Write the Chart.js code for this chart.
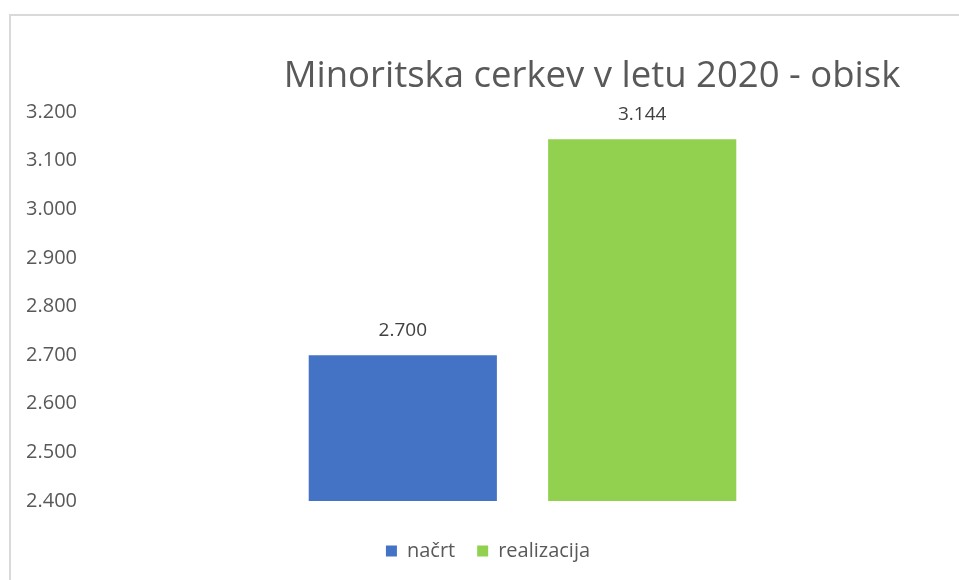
<!DOCTYPE html>
<html><head><meta charset="utf-8">
<script src="https://cdn.jsdelivr.net/npm/chart.js@4"></script>
<style>
html,body{margin:0;padding:0;background:#fff;width:959px;height:580px;overflow:hidden}
#frame{position:absolute;left:9px;top:14px;width:1000px;height:700px;border-left:2px solid #d9d9d9;border-top:2px solid #d9d9d9}
#wrap{position:absolute;left:0;top:0;width:959px;height:580px}
</style></head><body>
<div id="frame"></div>
<div id="wrap"><canvas id="c"></canvas></div>
<script>
const titleText = 'Minoritska cerkev v letu 2020 - obisk';
const categories = [''];
const seriesNames = ['načrt', 'realizacija'];
const nacrt = [2700];
const realizacija = [3144];
const colors = ['#4472C4', '#92D050'];
const yMin = 2400, yMax = 3200, yStep = 100;

function fmt(v){ return String(Math.round(v)).replace(/\B(?=(\d{3})+(?!\d))/g, '.'); }

const FONT = '"Open Sans", "Noto Sans", sans-serif';

const labelPlugin = {
  id: 'valueLabels',
  afterDatasetsDraw(chart){
    const ctx = chart.ctx;
    ctx.save();
    ctx.font = '19px ' + FONT;
    ctx.fillStyle = '#404040';
    ctx.textAlign = 'center';
    ctx.textBaseline = 'bottom';
    chart.data.datasets.forEach((ds, i) => {
      chart.getDatasetMeta(i).data.forEach((bar, j) => {
        ctx.fillText(fmt(ds.data[j]), bar.x, bar.y - 15);
      });
    });
    ctx.restore();
  }
};
const titlePlugin = {
  id: 'offsetTitle',
  afterDraw(chart){
    const ctx = chart.ctx;
    ctx.save();
    ctx.font = '400 36.5px ' + FONT;
    ctx.fillStyle = '#595959';
    ctx.textAlign = 'center';
    ctx.textBaseline = 'alphabetic';
    ctx.fillText(titleText, 592, 87);
    ctx.restore();
  }
};

new Chart(document.getElementById('c'), {
  type: 'bar',
  data: {
    labels: categories,
    datasets: [
      { label: seriesNames[0], data: nacrt, backgroundColor: colors[0] },
      { label: seriesNames[1], data: realizacija, backgroundColor: colors[1] }
    ]
  },
  options: {
    responsive: true,
    maintainAspectRatio: false,
    animation: false,
    layout: { padding: { left: 26, right: 9, top: 112, bottom: 9 } },
    categoryPercentage: 0.56,
    barPercentage: 0.786,
    scales: {
      x: {
        display: true, grid: { display: false, drawTicks: false }, border: { display: false }, ticks: { display: false },
        afterFit(s){ s.height = 18; }
      },
      y: {
        min: yMin, max: yMax,
        grid: { display: false, drawTicks: false },
        border: { display: false },
        afterFit(s){ s.width = 69; },
        ticks: {
          stepSize: yStep, crossAlign: 'far', padding: 0,
          color: '#595959', font: { family: FONT, size: 20 },
          callback: v => fmt(v)
        }
      }
    },
    plugins: {
      title: { display: false },
      tooltip: { enabled: false },
      legend: {
        position: 'bottom',
        labels: {
          boxWidth: 11, boxHeight: 11, padding: 22,
          color: '#595959', font: { family: FONT, size: 20 }
        }
      }
    }
  },
  plugins: [labelPlugin, titlePlugin]
});
</script>
</body></html>
